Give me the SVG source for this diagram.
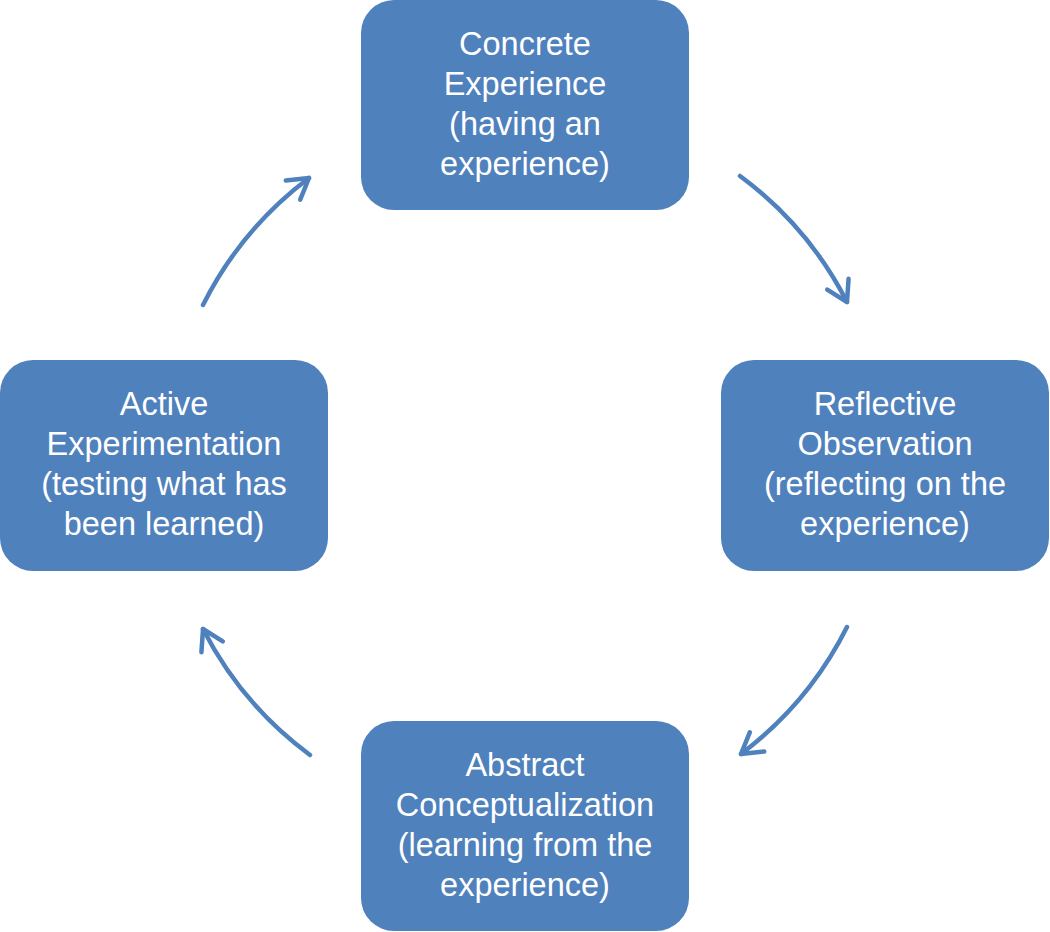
<svg xmlns="http://www.w3.org/2000/svg" width="1050" height="932" viewBox="0 0 1050 932">
<defs>
<style>
.box{fill:#4f81bd;}
.t{font-family:"Liberation Sans",Arial,sans-serif;font-size:32.5px;fill:#ffffff;text-anchor:middle;}
.arc{fill:none;stroke:#4f81bd;stroke-width:4.5;stroke-linecap:round;stroke-linejoin:round;}
</style>
<marker id="ah" viewBox="-24 -15 27 30" markerWidth="27" markerHeight="30" refX="0" refY="0" orient="auto" markerUnits="userSpaceOnUse">
<path d="M-20,-12 L0,0 L-20,12" fill="none" stroke="#4f81bd" stroke-width="4.5" stroke-linecap="round" stroke-linejoin="round"/>
</marker>
</defs>
<rect width="1050" height="932" fill="#ffffff"/>
<g id="connectors">
<path class="arc" d="M740,176 A361,361 0 0 1 847,302" marker-end="url(#ah)"/>
<path class="arc" d="M847,627 A361,361 0 0 1 741,754" marker-end="url(#ah)"/>
<path class="arc" d="M310,755 A361,361 0 0 1 203,629" marker-end="url(#ah)"/>
<path class="arc" d="M203,305 A361,361 0 0 1 309,178" marker-end="url(#ah)"/>
</g>
<g id="concrete">
<rect class="box" x="361" y="0" width="328" height="210" rx="33"/>
<text class="t" x="525" y="55">Concrete</text>
<text class="t" x="525" y="95">Experience</text>
<text class="t" x="525" y="135">(having an</text>
<text class="t" x="525" y="175">experience)</text>
</g>
<g id="reflective">
<rect class="box" x="721" y="360" width="328" height="211" rx="33"/>
<text class="t" x="885" y="415">Reflective</text>
<text class="t" x="885" y="455">Observation</text>
<text class="t" x="885" y="495">(reflecting on the</text>
<text class="t" x="885" y="535">experience)</text>
</g>
<g id="abstract">
<rect class="box" x="361" y="721" width="328" height="210" rx="33"/>
<text class="t" x="525" y="776">Abstract</text>
<text class="t" x="525" y="816">Conceptualization</text>
<text class="t" x="525" y="856">(learning from the</text>
<text class="t" x="525" y="896">experience)</text>
</g>
<g id="active">
<rect class="box" x="0" y="360" width="328" height="211" rx="33"/>
<text class="t" x="164" y="415">Active</text>
<text class="t" x="164" y="455">Experimentation</text>
<text class="t" x="164" y="495">(testing what has</text>
<text class="t" x="164" y="535">been learned)</text>
</g>
</svg>
